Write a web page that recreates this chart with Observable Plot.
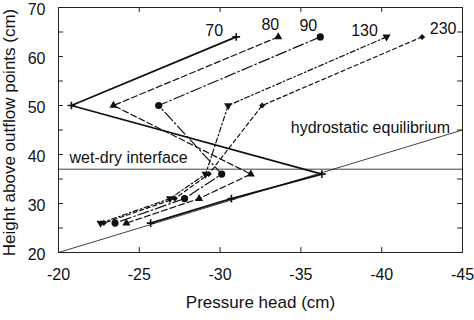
<!DOCTYPE html>
<html>
<head>
<meta charset="utf-8">
<script src="https://cdn.jsdelivr.net/npm/d3@7"></script>
<script src="https://cdn.jsdelivr.net/npm/@observablehq/plot@0.6"></script>
<style>
  html, body { margin: 0; padding: 0; background: #fff; }
</style>
</head>
<body>
<div id="chart"></div>
<script>
// ---- data ----
const seriesNames = ["70", "80", "90", "130", "230"];
const heights = [64, 50, 36, 31, 26];
const p70  = [-31.0, -20.8, -36.3, -30.7, -25.7];
const p80  = [-33.6, -23.4, -31.9, -28.7, -24.2];
const p90  = [-36.2, -26.2, -30.1, -27.8, -23.5];
const p130 = [-40.3, -30.5, -29.1, -26.9, -22.6];
const p230 = [-42.5, -32.6, -29.3, -27.2, -22.8];
const pressures = [p70, p80, p90, p130, p230];

const hydroX = [-20, -45];
const hydroY = [20, 45];
const interfaceH = 37;

const xTicks = [-20, -25, -30, -35, -40, -45];
const xInnerTicks = [-25, -30, -35, -40];
const yTicks = [20, 30, 40, 50, 60, 70];
const yMinorTicks = [25, 30, 35, 40, 45, 50, 55, 60, 65];

const xTitle = "Pressure head (cm)";
const yTitle = "Height above outflow points (cm)";
const hydroLabel = "hydrostatic equilibrium";
const hydroLabelPos = [-39.3, 45.5];
const interfaceLabel = "wet-dry interface";

// ---- styles ----
const triangleDown = {
  draw(ctx, size) {
    const y = -Math.sqrt(size / (Math.sqrt(3) * 3));
    ctx.moveTo(0, -y * 2);
    ctx.lineTo(-Math.sqrt(3) * y, y);
    ctx.lineTo(Math.sqrt(3) * y, y);
    ctx.closePath();
  }
};
const styles = {
  "70":  {dash: null,            width: 1.8, symbol: "plus",     r: 2.6, filled: false, off: [-22, -6]},
  "80":  {dash: "6,3",           width: 1.2, symbol: "triangle", r: 3.0, filled: true,  off: [-8, -12]},
  "90":  {dash: "11,3,1.5,3",    width: 1.2, symbol: "circle",   r: 3.6, filled: true,  off: [-12, -11]},
  "130": {dash: "5,2.5,1.5,2.5", width: 1.2, symbol: triangleDown, r: 3.0, filled: true, off: [-22, -6]},
  "230": {dash: "4,3",           width: 1.2, symbol: "diamond2", r: 2.7, filled: true,  off: [21, -8]}
};

const rows = [];
seriesNames.forEach((s, i) => {
  heights.forEach((h, j) => rows.push({series: s, p: pressures[i][j], h, order: j}));
});
const hydro = hydroX.map((x, i) => ({x, y: hydroY[i]}));

const marks = [
  // reference lines
  Plot.line(hydro, {x: "x", y: "y", stroke: "#111", strokeWidth: 0.8}),
  Plot.ruleY([interfaceH], {stroke: "#111", strokeWidth: 0.8}),
  Plot.frame({stroke: "#222", strokeWidth: 1}),
  // inward ticks
  Plot.ruleX(xInnerTicks, {y1: 20, y2: 21, stroke: "#222"}),
  Plot.ruleX(xInnerTicks, {y1: 69, y2: 70, stroke: "#222"}),
  Plot.ruleY(yMinorTicks, {x1: -20, x2: -20.3, stroke: "#222"}),
  Plot.ruleY(yMinorTicks, {x1: -44.7, x2: -45, stroke: "#222"}),
  // axes labels
  Plot.axisX(xTicks, {anchor: "bottom", tickSize: 0, tickPadding: 16, tickFormat: d => String(d), label: null, fontSize: 16}),
  Plot.axisY(yTicks, {anchor: "left", tickSize: 0, tickPadding: 13, tickFormat: d => String(d), label: null, fontSize: 16, dy: 2.5}),
  Plot.text([xTitle], {frameAnchor: "bottom", dy: 55, fontSize: 17, fill: "#111"}),
  Plot.text([yTitle], {frameAnchor: "left", textAnchor: "middle", dx: -49, dy: 2.5, rotate: -90, fontSize: 17, fill: "#111"}),
  // annotations
  Plot.text([hydroLabel], {x: [hydroLabelPos[0]], y: [hydroLabelPos[1]], fontSize: 16, fill: "#111"}),
  Plot.text([interfaceLabel], {y: [interfaceH], frameAnchor: "left", textAnchor: "start", dx: 11, dy: -11, fontSize: 16, fill: "#111"})
];

seriesNames.forEach(s => {
  const st = styles[s];
  const d = rows.filter(r => r.series === s);
  marks.push(Plot.line(d, {x: "p", y: "h", stroke: "#111", strokeWidth: st.width, strokeDasharray: st.dash}));
  marks.push(Plot.dot(d, st.filled
    ? {x: "p", y: "h", symbol: () => st.symbol, r: st.r, fill: "#111", stroke: "none"}
    : {x: "p", y: "h", symbol: () => st.symbol, r: st.r, stroke: "#111", strokeWidth: 1.6, fill: "none"}));
  marks.push(Plot.text([d[0]], {x: "p", y: "h", text: () => s, dx: st.off[0], dy: st.off[1], fontSize: 16, fill: "#111"}));
});

const chart = Plot.plot({
  width: 474,
  height: 320,
  marginLeft: 58,
  marginRight: 12,
  marginTop: 7,
  marginBottom: 68,
  x: {domain: [-20, -45]},
  y: {domain: [20, 70]},
  symbol: {type: "identity"},
  style: {fontFamily: "'Liberation Sans', Arial, Helvetica, sans-serif", fontSize: "16px", background: "#fff", color: "#111", overflow: "visible"},
  marks
});
document.getElementById("chart").appendChild(chart);
</script>
</body>
</html>
